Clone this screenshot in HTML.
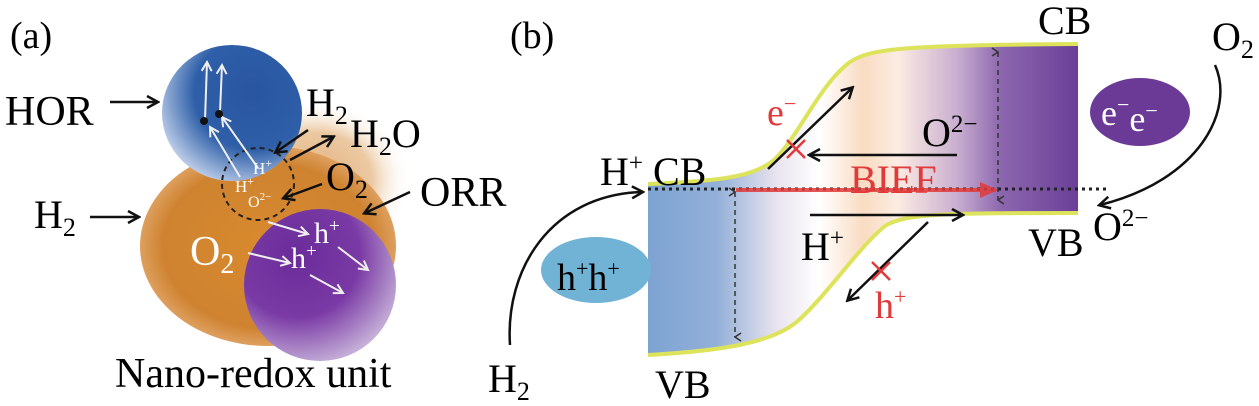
<!DOCTYPE html>
<html><head><meta charset="utf-8"><style>
html,body{margin:0;padding:0;background:#fff;}
svg{display:block;}
text{font-family:"Liberation Serif",serif;}
</style></head><body>
<svg width="1259" height="406" viewBox="0 0 1259 406" xmlns="http://www.w3.org/2000/svg">
<defs>
<marker id="ab" markerWidth="14" markerHeight="14" refX="11" refY="7" orient="auto" markerUnits="userSpaceOnUse"><path d="M1,1 L12,7 L1,13" fill="none" stroke="#111" stroke-width="2.5"/></marker>
<marker id="aw" markerWidth="12" markerHeight="12" refX="10" refY="6" orient="auto" markerUnits="userSpaceOnUse"><path d="M1,1 L10,6 L1,11" fill="none" stroke="#eee" stroke-width="2"/></marker>
<marker id="ar" markerWidth="18" markerHeight="18" refX="16" refY="9" orient="auto" markerUnits="userSpaceOnUse"><path d="M0,1 L18,9 L0,17 Z" fill="#e23a3a"/></marker>
<marker id="ad" markerWidth="10" markerHeight="10" refX="5" refY="8" orient="auto-start-reverse" markerUnits="userSpaceOnUse"><path d="M1,2 L5,8 L9,2" fill="none" stroke="#333" stroke-width="1.5"/></marker>
<radialGradient id="gOr" cx="0.5" cy="0.5" r="0.55"><stop offset="0" stop-color="#d98a2e"/><stop offset="0.75" stop-color="#cf8330"/><stop offset="1" stop-color="#e6b07a"/></radialGradient>
<radialGradient id="gPe" cx="0.5" cy="0.5" r="0.5"><stop offset="0" stop-color="#e3b07a"/><stop offset="0.6" stop-color="#ecc9a3"/><stop offset="1" stop-color="#fff" stop-opacity="0"/></radialGradient>
<radialGradient id="gBl" cx="0.65" cy="0.35" r="0.7"><stop offset="0" stop-color="#2a55a0"/><stop offset="0.6" stop-color="#2e5fa8"/><stop offset="1" stop-color="#b7c9e6"/></radialGradient>
<radialGradient id="gPu" cx="0.35" cy="0.3" r="0.75"><stop offset="0" stop-color="#6a2c9a"/><stop offset="0.55" stop-color="#7a3aa5"/><stop offset="1" stop-color="#c7b3d9"/></radialGradient>
<linearGradient id="gBand" x1="648" y1="0" x2="1078" y2="0" gradientUnits="userSpaceOnUse">
<stop offset="0" stop-color="#7ea3d2"/><stop offset="0.16" stop-color="#93b0d8"/><stop offset="0.3" stop-color="#e9e4ef"/><stop offset="0.4" stop-color="#fff"/><stop offset="0.5" stop-color="#f9dcc2"/><stop offset="0.58" stop-color="#fbece2"/><stop offset="0.72" stop-color="#c9aed0"/><stop offset="0.82" stop-color="#8c67ae"/><stop offset="1" stop-color="#6a3f98"/></linearGradient>
</defs>

<!-- Panel a -->
<text x="10" y="48" font-size="38">(a)</text>
<ellipse cx="315" cy="180" rx="95" ry="80" fill="url(#gPe)"/>
<ellipse cx="268" cy="246" rx="128" ry="100" fill="url(#gOr)"/>
<ellipse cx="232" cy="113" rx="70" ry="68" fill="url(#gBl)"/>
<circle cx="320" cy="285" r="76" fill="url(#gPu)"/>
<circle cx="258" cy="184" r="36" fill="none" stroke="#222" stroke-width="2" stroke-dasharray="5,4"/>
<g stroke="#eee" stroke-width="2" marker-end="url(#aw)">
<line x1="205" y1="120" x2="207" y2="62"/><line x1="220" y1="112" x2="222" y2="65"/>
<line x1="240" y1="177" x2="210" y2="127"/><line x1="258" y1="168" x2="222" y2="117"/>
<line x1="268" y1="222" x2="308" y2="234"/><line x1="248" y1="253" x2="290" y2="263"/>
<line x1="338" y1="247" x2="368" y2="270"/><line x1="310" y1="275" x2="343" y2="293"/>
</g>
<circle cx="204" cy="121" r="4" fill="#111"/><circle cx="219" cy="114" r="4" fill="#111"/>
<text x="253" y="174" font-size="17" fill="#fff">H<tspan dy="-7" font-size="12">+</tspan></text>
<text x="235" y="192" font-size="17" fill="#fff">H<tspan dy="-7" font-size="12">+</tspan></text>
<text x="248" y="207" font-size="16" fill="#fff">O<tspan dy="-7" font-size="11">2−</tspan></text>
<text x="314" y="243" font-size="30" fill="#fff">h<tspan dy="-11" font-size="19">+</tspan></text>
<text x="291" y="268" font-size="30" fill="#fff">h<tspan dy="-11" font-size="19">+</tspan></text>
<text x="190" y="265" font-size="42" fill="#fff">O<tspan dy="8" font-size="28">2</tspan></text>
<g stroke="#111" stroke-width="2.5" marker-end="url(#ab)">
<line x1="110" y1="102" x2="157" y2="102"/>
<line x1="90" y1="217" x2="138" y2="217"/>
<line x1="308" y1="130" x2="276" y2="152"/>
<line x1="290" y1="160" x2="333" y2="137"/>
<line x1="322" y1="184" x2="284" y2="198"/>
<line x1="410" y1="192" x2="365" y2="213"/>
</g>
<text x="5" y="125" font-size="42">HOR</text>
<text x="306" y="116" font-size="40">H<tspan dy="8" font-size="26">2</tspan></text>
<text x="350" y="147" font-size="40">H<tspan dy="8" font-size="26">2</tspan><tspan dy="-8">O</tspan></text>
<text x="326" y="190" font-size="40">O<tspan dy="8" font-size="26">2</tspan></text>
<text x="420" y="206" font-size="42">ORR</text>
<text x="34" y="228" font-size="40">H<tspan dy="8" font-size="26">2</tspan></text>
<text x="115" y="387" font-size="42">Nano-redox unit</text>

<!-- Panel b -->
<text x="510" y="48" font-size="38">(b)</text>
<path d="M648,185 C720,182 755,178 775,160 C800,135 820,85 850,63 C870,50 900,46 1078,46 L1078,212 C950,212 905,212 885,225 C860,245 830,290 800,318 C775,342 720,350 648,354 Z" fill="url(#gBand)"/>
<path d="M648,184 C720,181 755,177 775,159 C800,134 820,84 850,62 C870,49 900,45 1078,44" fill="none" stroke="#dde35a" stroke-width="4"/>
<path d="M1078,213 C950,213 905,213 885,226 C860,246 830,291 800,319 C775,343 720,351 648,355" fill="none" stroke="#dde35a" stroke-width="4"/>
<line x1="648" y1="189" x2="1110" y2="189" stroke="#222" stroke-width="3" stroke-dasharray="3,4"/>
<line x1="736" y1="190" x2="996" y2="190" stroke="#e23a3a" stroke-width="4" opacity="0.85" marker-end="url(#ar)"/>
<line x1="735" y1="192" x2="735" y2="337" stroke="#333" stroke-width="1.5" stroke-dasharray="5,4" marker-start="url(#ad)" marker-end="url(#ad)"/>
<line x1="998" y1="52" x2="998" y2="200" stroke="#333" stroke-width="1.5" stroke-dasharray="5,4" marker-start="url(#ad)" marker-end="url(#ad)"/>
<g stroke="#111" stroke-width="2.5" marker-end="url(#ab)">
<line x1="768" y1="169" x2="852" y2="88"/>
<line x1="957" y1="155" x2="810" y2="155"/>
<line x1="810" y1="215" x2="962" y2="215"/>
<line x1="928" y1="222" x2="848" y2="300"/>
<path d="M510,345 C505,270 550,195 642,192" fill="none"/>
<path d="M1215,65 C1235,110 1200,180 1100,205" fill="none"/>
</g>
<g stroke="#e23a3a" stroke-width="2.5">
<line x1="787" y1="140" x2="805" y2="158"/><line x1="805" y1="140" x2="787" y2="158"/>
<line x1="872" y1="262" x2="890" y2="280"/><line x1="890" y1="262" x2="872" y2="280"/>
</g>
<text x="767" y="125" font-size="38" fill="#e23a3a">e<tspan dy="-14" font-size="22">−</tspan></text>
<text x="850" y="193" font-size="40" fill="#e23a3a">BIEF</text>
<text x="875" y="318" font-size="38" fill="#e23a3a">h<tspan dy="-14" font-size="22">+</tspan></text>
<text x="922" y="146" font-size="40">O<tspan dy="-14" font-size="25">2−</tspan></text>
<text x="801" y="260" font-size="40">H<tspan dy="-14" font-size="25">+</tspan></text>
<text x="600" y="185" font-size="40">H<tspan dy="-14" font-size="25">+</tspan><tspan dy="14"> CB</tspan></text>
<text x="1038" y="34" font-size="40">CB</text>
<text x="1028" y="256" font-size="40">VB</text>
<text x="655" y="398" font-size="40">VB</text>
<text x="1212" y="50" font-size="40">O<tspan dy="8" font-size="26">2</tspan></text>
<text x="1093" y="240" font-size="40">O<tspan dy="-14" font-size="25">2−</tspan></text>
<text x="488" y="392" font-size="40">H<tspan dy="8" font-size="26">2</tspan></text>
<ellipse cx="1140" cy="112" rx="50" ry="34" fill="#6b3a97"/>
<text x="1101" y="125" font-size="36" fill="#fff">e<tspan dy="-13" font-size="22">−</tspan><tspan dy="19">e</tspan><tspan dy="-13" font-size="22">−</tspan></text>
<ellipse cx="596" cy="270" rx="55" ry="33" fill="#71b3d5"/>
<text x="557" y="290" font-size="38">h<tspan dy="-14" font-size="22">+</tspan><tspan dy="14">h</tspan><tspan dy="-14" font-size="22">+</tspan></text>
</svg>
</body></html>
